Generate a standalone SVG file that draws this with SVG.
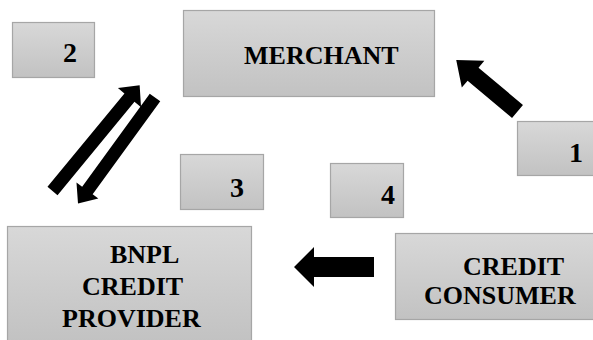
<svg xmlns="http://www.w3.org/2000/svg" width="593" height="340" viewBox="0 0 593 340">
<defs>
<linearGradient id="g" x1="0" y1="0" x2="0" y2="1">
<stop offset="0" stop-color="#d8d8d8"/>
<stop offset="1" stop-color="#c2c2c2"/>
</linearGradient>
</defs>
<style>
.box{fill:url(#g);stroke:#a6a6a6;stroke-width:1.2}
text{font-family:'Liberation Serif','DejaVu Serif',serif;font-weight:bold;fill:#000}
.t{font-size:26px}
.n{font-size:28px}
.arr{fill:#000}
</style>
<rect width="593" height="340" fill="#fff"/>
<g id="merchant">
<rect class="box" x="183.5" y="10.5" width="251" height="86"/>
<text class="t" x="244" y="64" font-family="Liberation Serif, serif">MERCHANT</text>
</g>
<g id="bnpl">
<rect class="box" x="7.5" y="226.5" width="244" height="115"/>
<text class="t" x="110" y="263" font-family="Liberation Serif, serif">BNPL</text>
<text class="t" x="82" y="295" font-family="Liberation Serif, serif">CREDIT</text>
<text class="t" x="62" y="327" font-family="Liberation Serif, serif">PROVIDER</text>
</g>
<g id="consumer">
<rect class="box" x="395.5" y="233.5" width="199" height="86"/>
<text class="t" x="463" y="275" font-family="Liberation Serif, serif">CREDIT</text>
<text class="t" x="424" y="304" font-family="Liberation Serif, serif">CONSUMER</text>
</g>
<g id="label1">
<rect class="box" x="517.5" y="121.5" width="77" height="54"/>
<text class="n" x="569" y="162" font-family="Liberation Serif, serif">1</text>
</g>
<g id="label2">
<rect class="box" x="12.5" y="22.5" width="82" height="55"/>
<text class="n" x="63" y="62" font-family="Liberation Serif, serif">2</text>
</g>
<g id="label3">
<rect class="box" x="180.5" y="154.5" width="83" height="55"/>
<text class="n" x="230" y="197" font-family="Liberation Serif, serif">3</text>
</g>
<g id="label4">
<rect class="box" x="330.5" y="163.5" width="73" height="54"/>
<text class="n" x="381" y="204" font-family="Liberation Serif, serif">4</text>
</g>
<g id="connectors">
<path class="arr" transform="translate(517.5,111.5) rotate(220)" d="M0,-8.5 L58,-8.5 L58,-17.5 L80,0 L58,17.5 L58,8.5 L0,8.5 Z"/>
<path class="arr" transform="translate(52.5,191) rotate(-50.5)" d="M0,-6.5 L121,-6.5 L121,-15 L137,0 L121,15 L121,6.5 L0,6.5 Z"/>
<path class="arr" transform="translate(155,97.5) rotate(126)" d="M0,-6.5 L115,-6.5 L115,-13.5 L131,0 L115,13.5 L115,6.5 L0,6.5 Z"/>
<path class="arr" d="M374,257 L314,257 L314,247 L294,267 L314,287 L314,277 L374,277 Z"/>
</g>
</svg>
